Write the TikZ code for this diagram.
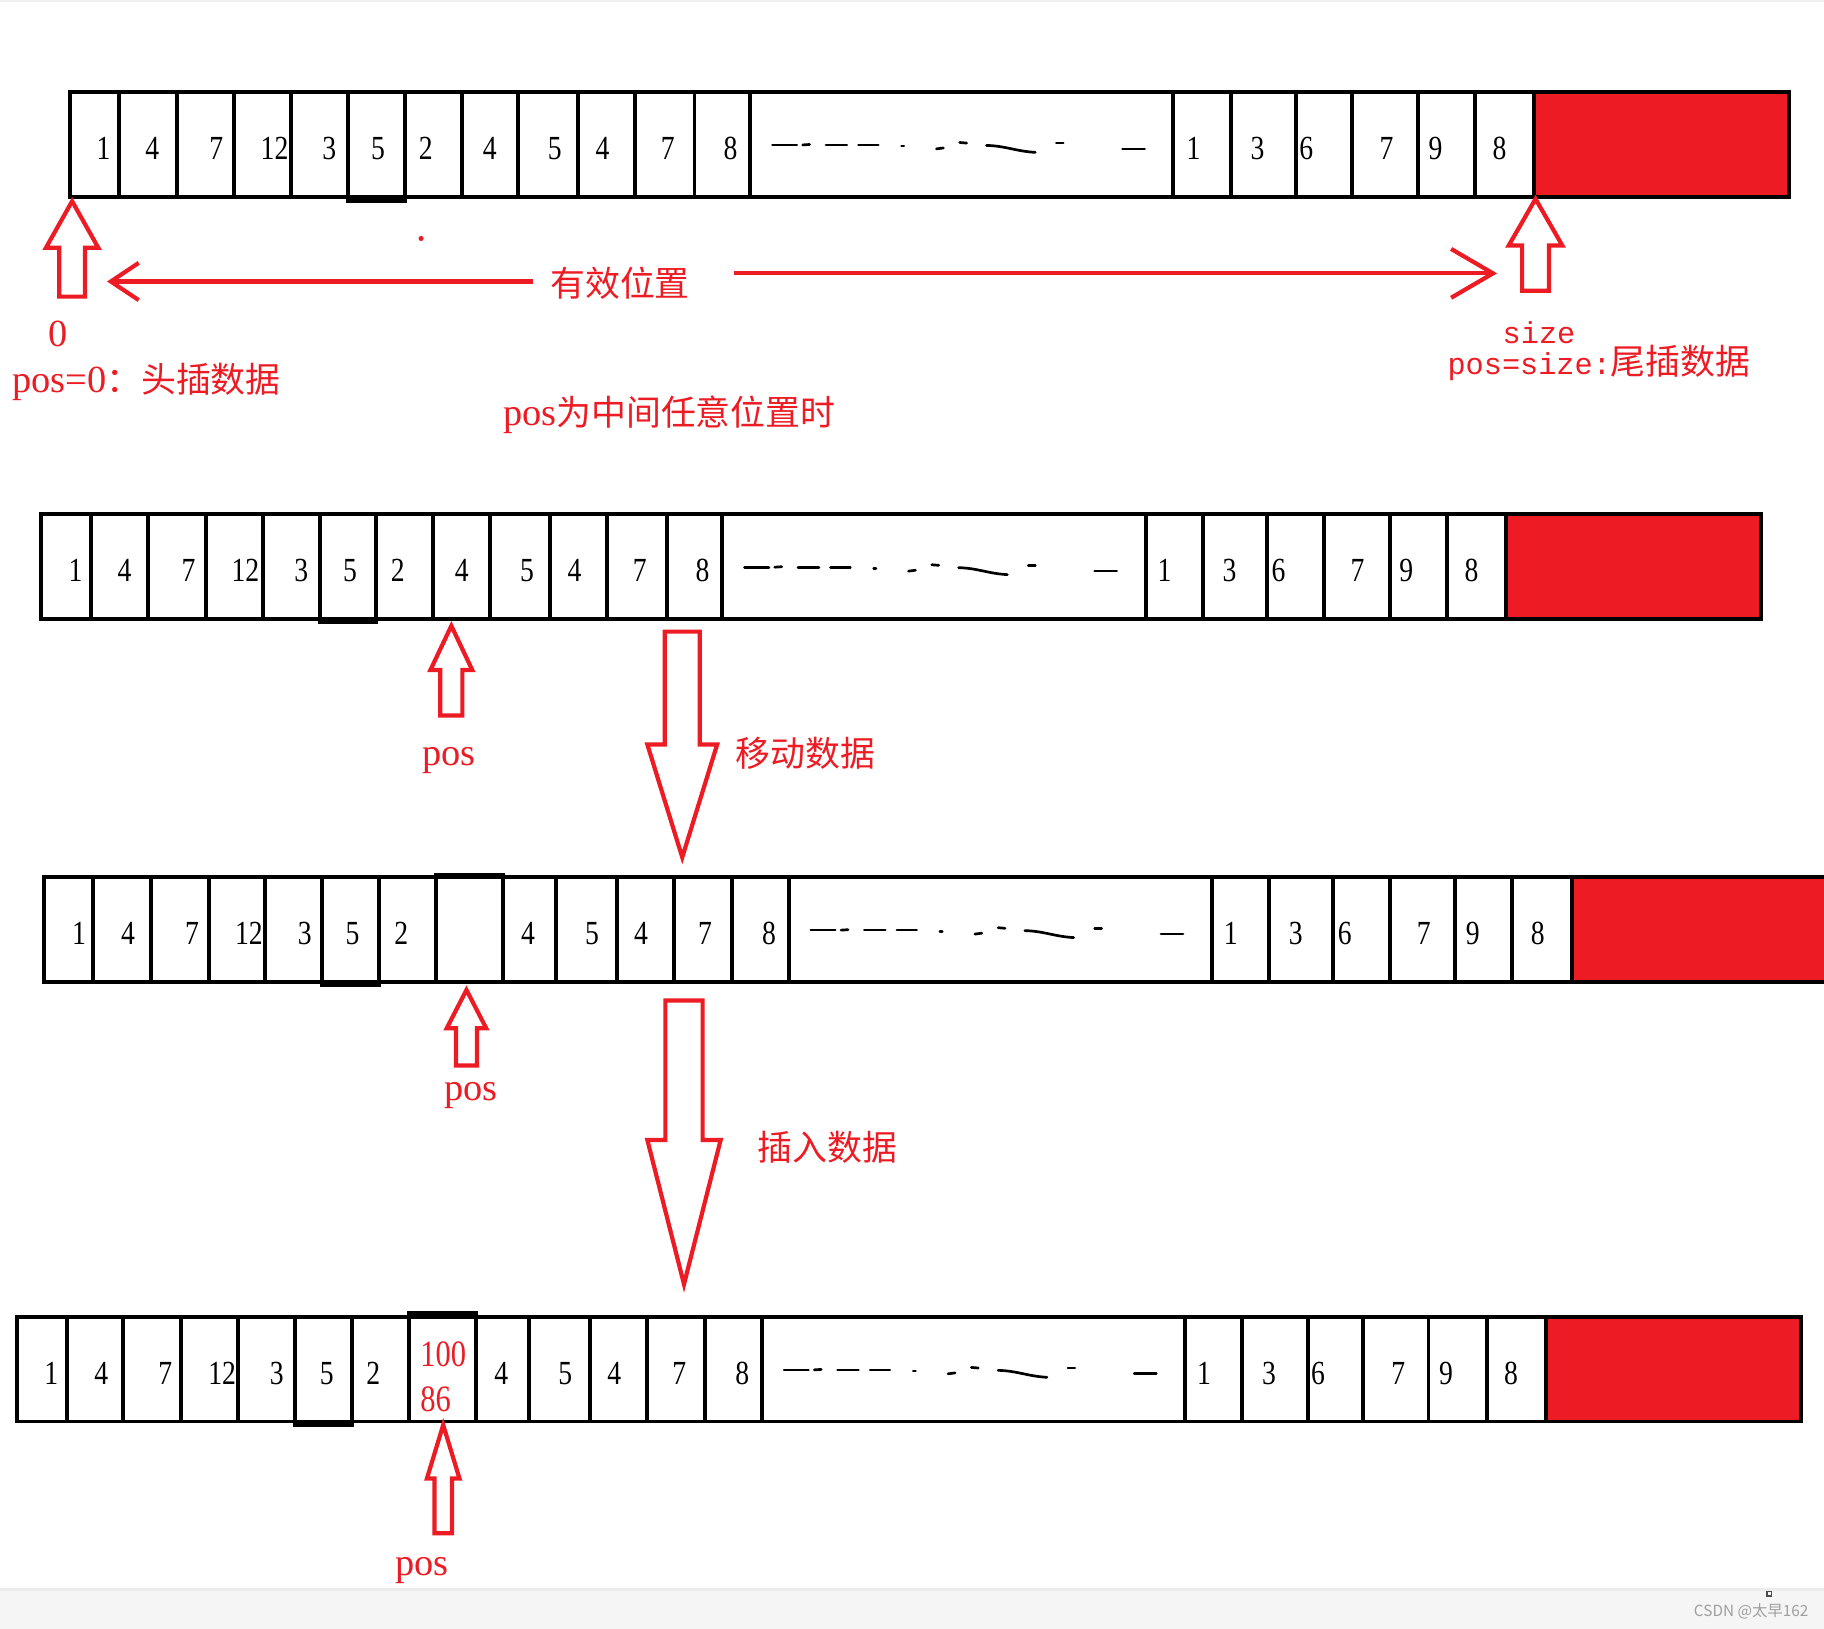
\documentclass[tikz,border=0pt]{standalone}
\usepackage{fontspec}
\setmainfont{Liberation Serif}
\newfontfamily\cjk{Noto Sans CJK SC}
\newfontfamily\cellfont[FakeStretch=0.82]{Liberation Serif}
\newfontfamily\codefont{Liberation Mono}
\usetikzlibrary{arrows.meta}

\definecolor{paintred}{HTML}{ED1C24}
\definecolor{barbg}{HTML}{F5F5F5}

% hollow block arrow: x, tip y, head half width, head base y, shaft half width, end y
\newcommand{\blockarrow}[6]{%
  \draw[hollow] (#1,#2) -- ({#1+#3},#4) -- ({#1+#5},#4) -- ({#1+#5},#6)
    -- ({#1-#5},#6) -- ({#1-#5},#4) -- ({#1-#3},#4) -- cycle;}

\tikzset{
  cellline/.style={draw=black, line width=1.7pt},
  scribble/.style={draw=black, line width=1.15pt, line cap=round},
  hollow/.style={draw=paintred, line width=1.8pt, line join=miter},
  redline/.style={draw=paintred, line width=1.8pt},
  num/.style={font=\cellfont\fontsize{14.5}{14.5}\selectfont, anchor=base, inner sep=0pt},
  rednum/.style={text=paintred, font=\cellfont\fontsize{16}{16}\selectfont, anchor=base west, inner sep=0pt},
  redserif/.style={text=paintred, font=\fontsize{16.5}{16.5}\selectfont, anchor=base, inner sep=0pt},
  redcjk/.style={text=paintred, font=\cjk\fontsize{15}{15}\selectfont, anchor=base, inner sep=0pt},
  gapmarks/.pic={
    \draw[scribble] (19,-12.4) -- (40,-12.4);
    \draw[scribble] (45,-12.4) -- (51,-12.8);
    \draw[scribble] (65,-12.4) -- (83,-12.4);
    \draw[scribble] (93,-12.4) -- (110,-12.4);
    \draw[scribble] (130,-11.5) -- (132,-11.5);
    \draw[scribble] (160,-9) -- (166,-9.8);
    \draw[scribble] (180,-14.5) -- (186,-14);
    \draw[scribble] (203,-12) .. controls (220,-11.5) and (228,-7) .. (245,-6);
    \draw[scribble] (263,-14) -- (269,-14);
    \draw[scribble] (320,-9) -- (339,-9);
  }
}

\begin{document}
\begin{tikzpicture}[x=0.5pt, y=-0.5pt]
\clip (0,0) rectangle (1568,1400);
\fill[white] (0,0) rectangle (1568,1400);
\fill[gray!12] (0,0) rectangle (1568,2);

% row 1
\fill[paintred] (1319,79) rectangle (1538,169);
\draw[cellline] (60,79) rectangle (1538,169);
\foreach \x in {102,152,201,250,299,348,397,445,497,546,597,645,1008,1058,1114,1162,1219,1268,1319}
  \draw[cellline] (\x,79) -- (\x,169);
\draw[cellline] (299,79) rectangle (348,173);
\foreach \x/\t [count=\i] in {89/1,131/4,186/7,236/12,283/3,325/5,366/2,421/4,477/5,518/4,574/7,628/8,1026/1,1081/3,1123/6,1192/7,1234/9,1289/8}
  \node[num] (a\i) at (\x,137) {\t};
\pic at (645,137) {gapmarks};

% markers under row 1
\blockarrow{62}{173}{22.5}{213}{11}{255}
\blockarrow{1320}{171}{23}{211}{11.5}{250}
\fill[paintred] (362,205) circle (2.2);
\node[redcjk] (valid) at (533,255) {有效位置};
\coordinate (leftstart) at (458,242);
\coordinate (leftend) at (92,242);
\coordinate (rightstart) at (631,235);
\coordinate (rightend) at (1287,235);
\draw[redline, -{Straight Barb[length=12pt,width=16pt]}] (leftstart) -- (leftend);
\draw[redline, -{Straight Barb[length=18pt,width=21pt]}] (rightstart) -- (rightend);

\node[redserif] (zero) at (50,298) {0};
\node[redserif, anchor=base west] (headins) at (10,337) {pos=0{\cjk\fontsize{15}{15}\selectfont ：头插数据}};
\node[redserif, anchor=base west] (middle) at (432,366) {pos{\cjk\fontsize{15}{15}\selectfont 为中间任意位置时}};
\node[redserif, font=\codefont\fontsize{13}{13}\selectfont] (size) at (1323,295) {size};
\node[redserif, anchor=base west, font=\codefont\fontsize{13}{13}\selectfont] (tailins) at (1244,322) {pos=size:{\cjk\fontsize{15}{15}\selectfont 尾插数据}};

% row 2
\fill[paintred] (1295,442) rectangle (1514,532);
\draw[cellline] (35,442) rectangle (1514,532);
\foreach \x in {78,127,177,226,275,323,372,421,473,522,573,621,985,1034,1089,1138,1195,1244,1295}
  \draw[cellline] (\x,442) -- (\x,532);
\draw[cellline] (275,442) rectangle (323,535);
\foreach \x/\t [count=\i] in {65/1,107/4,162/7,211/12,259/3,301/5,342/2,397/4,453/5,494/4,550/7,604/8,1001/1,1057/3,1099/6,1167/7,1209/9,1265/8}
  \node[num] (b\i) at (\x,500) {\t};
\pic at (621,500) {gapmarks};

\blockarrow{388}{538}{18}{576}{9.5}{615}
\node[redserif] (posb) at (386,658) {pos};
\blockarrow{586.5}{737}{30}{640}{15}{543}
\node[redcjk, anchor=base west] (move) at (632,659) {移动数据};

% row 3
\fill[paintred] (1351,754) rectangle (1575,844);
\draw[cellline] (38,754) rectangle (1575,844);
\foreach \x in {80,130,180,228,277,326,375,432,478,530,579,629,678,1042,1091,1146,1195,1251,1300,1351}
  \draw[cellline] (\x,754) -- (\x,844);
\draw[cellline] (277,754) rectangle (326,847);
\draw[cellline] (375,752) rectangle (432,844);
\foreach \x/\t [count=\i] in {68/1,110/4,165/7,214/12,262/3,303/5,345/2,454/4,509/5,551/4,606/7,661/8,1058/1,1114/3,1156/6,1224/7,1266/9,1322/8}
  \node[num] (c\i) at (\x,812) {\t};
\pic at (678,812) {gapmarks};

\blockarrow{401}{851}{17}{884}{9}{916}
\node[redserif] (posc) at (405,946) {pos};
\blockarrow{588}{1104}{31.5}{980}{16}{860}
\node[redcjk, anchor=base west] (insert) at (651,998) {插入数据};

% row 4
\fill[paintred] (1329,1132) rectangle (1548,1222);
\draw[cellline] (15,1132) rectangle (1548,1222);
\foreach \x in {58,106,156,205,254,303,352,409,455,507,556,606,655,1019,1068,1124,1172,1228,1278,1329}
  \draw[cellline] (\x,1132) -- (\x,1222);
\draw[cellline] (254,1132) rectangle (303,1225);
\draw[cellline] (352,1129) rectangle (409,1222);
\foreach \x/\t [count=\i] in {44/1,87/4,142/7,191/12,238/3,281/5,321/2,431/4,486/5,528/4,584/7,638/8,1035/1,1091/3,1133/6,1202/7,1243/9,1299/8}
  \node[num] (d\i) at (\x,1190) {\t};
\node[rednum] (newval) at (361,1175) {100};
\node[rednum] (oldval) at (361,1213.5) {86};
\pic at (655,1190) {gapmarks};

\blockarrow{381}{1225}{14}{1271}{7.5}{1318}
\node[redserif] (posd) at (363,1354) {pos};

% page footer
\fill[gray!15] (0,1365) rectangle (1568,1368);
\fill[barbg] (0,1368) rectangle (1568,1400);
\draw[gray!60!black, line width=0.5pt] (1519,1368) rectangle (1523,1372);
\node[anchor=base east, inner sep=0pt, text=gray!75, font=\cjk\fontsize{6.6}{6.6}\selectfont] (mark) at (1555,1390) {CSDN @太早162};
\end{tikzpicture}
\end{document}
